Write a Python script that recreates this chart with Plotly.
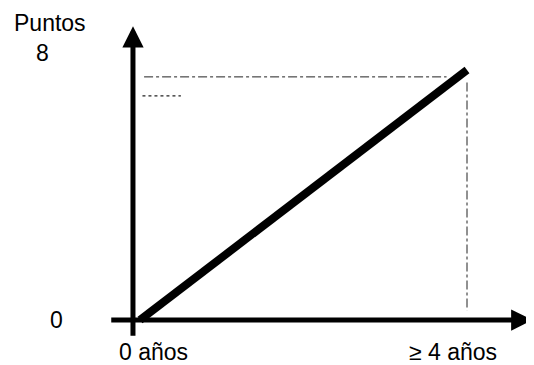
import plotly.graph_objects as go

# data
x_years = [0, 4]
y_points = [0, 8]
x_labels = ["0 años", "≥ 4 años"]
y_labels = ["0", "8"]
y_title = "Puntos"

# guide lines
guide_top_y = 7.78
guide_dot_y = 7.17
guide_dot_x = [0.03, 0.5]

fig = go.Figure()

# dashed guides
fig.add_scatter(x=[0.05, 3.75], y=[guide_top_y, guide_top_y], mode="lines",
                line=dict(color="#222", width=1, dash="dashdot"), hoverinfo="skip")
fig.add_scatter(x=guide_dot_x, y=[guide_dot_y, guide_dot_y], mode="lines",
                line=dict(color="#222", width=1.2, dash="dot"), hoverinfo="skip")
fig.add_scatter(x=[x_years[1], x_years[1]], y=[7.6, 0.3], mode="lines",
                line=dict(color="#222", width=1, dash="dashdot"), hoverinfo="skip")

# main line
fig.add_scatter(x=x_years, y=y_points, mode="lines",
                line=dict(color="black", width=8), hoverinfo="skip")

# axes with arrows
fig.add_annotation(x=-0.086, y=9.4, ax=-0.086, ay=-0.55, xref="x", yref="y",
                   axref="x", ayref="y", showarrow=True, arrowhead=2,
                   arrowsize=0.85, arrowwidth=5, arrowcolor="black", text="", standoff=0)
fig.add_annotation(x=4.8, y=0, ax=-0.37, ay=0, xref="x", yref="y",
                   axref="x", ayref="y", showarrow=True, arrowhead=2,
                   arrowsize=0.85, arrowwidth=5, arrowcolor="black", text="", standoff=0)

font = dict(family="Liberation Sans, Arial", size=23, color="black")

# tick labels
fig.add_annotation(x=x_years[0], y=0, text=x_labels[0], showarrow=False, xref="x", yref="y",
                   xanchor="left", xshift=-23, yshift=-32, font=font)
fig.add_annotation(x=x_years[1], y=0, text=x_labels[1], showarrow=False, xref="x", yref="y",
                   xshift=-14, yshift=-32, font=font)
fig.add_annotation(x=-1.02, y=y_points[0], text=y_labels[0], showarrow=False, xref="x", yref="y",
                   font=font)
fig.add_annotation(x=-1.19, y=y_points[1], text=y_labels[1], showarrow=False, xref="x", yref="y",
                   yshift=17, font=font)
fig.add_annotation(x=-1.1, y=y_points[1], text=y_title, showarrow=False, xref="x", yref="y",
                   yshift=47, font=font)

fig.update_layout(
    width=526, height=357,
    margin=dict(l=0, r=0, t=0, b=0),
    plot_bgcolor="white", paper_bgcolor="white",
    showlegend=False,
    xaxis=dict(range=[-1.6147, 4.8196], visible=False),
    yaxis=dict(range=[-1.44, 9.984], visible=False),
)

fig.write_html("out.html")
